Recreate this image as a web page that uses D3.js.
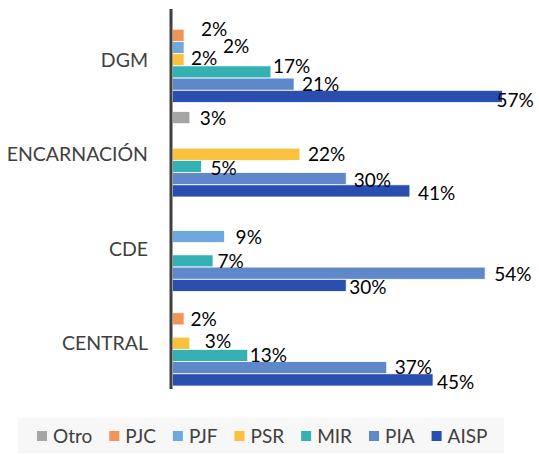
<!DOCTYPE html>
<html>
<head>
<meta charset="utf-8">
<script src="https://cdn.jsdelivr.net/npm/d3@7"></script>
<style>
  body { margin: 0; background: #fff; }
  svg { display: block; font-family: Lato, "Open Sans", sans-serif; }
</style>
</head>
<body>
<svg width="539" height="454"></svg>
<script>
// categories top to bottom
var categories = ['DGM', 'ENCARNACIÓN', 'CDE', 'CENTRAL']
// series in legend order (also top to bottom inside each group)
var series = ['Otro', 'PJC', 'PJF', 'PSR', 'MIR', 'PIA', 'AISP']
var colors = ['#A5A5A5', '#F0955A', '#6FA8DC', '#FBC03D', '#35B0B3', '#5F88CB', '#2A4EAE']

// percent values, one array per series, in category order (null = no bar)
var otro = [null, 3, null, null]
var pjc = [2, null, null, 2]
var pjf = [2, null, 9, null]
var psr = [2, 22, null, 3]
var mir = [17, 5, 7, 13]
var pia = [21, 30, 54, 37]
var aisp = [57, 41, 30, 45]
var values = [otro, pjc, pjf, psr, mir, pia, aisp]

// label nudges like the spreadsheet did to avoid overlaps [dx after bar end, dy from bar centre]
var labelNudge = {
    'DGM|PJC': [17, -6.5], 'DGM|PJF': [39, -1.5], 'DGM|PSR': [7, -1.5],
    'DGM|MIR': [2, -6], 'DGM|PIA': [8, 0], 'DGM|AISP': [-6, 3.5],
    'ENCARNACIÓN|Otro': [10, 0.5], 'ENCARNACIÓN|PSR': [8, 0], 'ENCARNACIÓN|MIR': [9, 2],
    'ENCARNACIÓN|PIA': [7.5, 2], 'ENCARNACIÓN|AISP': [8, 2.5],
    'CDE|PJF': [11, 0.5], 'CDE|MIR': [4.5, 0.5], 'CDE|PIA': [9, 0.7], 'CDE|AISP': [3, 2],
    'CENTRAL|PJC': [6.5, 0], 'CENTRAL|PSR': [15, -2], 'CENTRAL|MIR': [2, 0],
    'CENTRAL|PIA': [8, 0], 'CENTRAL|AISP': [4, 2]
}

var svg = d3.select('svg')

var y = d3.scaleBand()
    .domain(categories)
    .range([12.5, 390.5])
    .paddingInner(0.095)
    .paddingOuter(0.0475)
var ySub = d3.scaleBand()
    .domain(series)
    .range([0, y.bandwidth()])
var x = d3.scaleLinear()
    .domain([0, 60])
    .range([172.5, 172.5 + 60 * 5.79])

var rows = []
categories.forEach(function (cat, ci) {
    series.forEach(function (s, si) {
        var v = values[si][ci]
        if (v !== null) rows.push({ cat: cat, series: s, value: v, color: colors[si] })
    })
})

// bars
svg.append('g').selectAll('rect')
    .data(rows)
    .enter().append('rect')
    .attr('x', x(0))
    .attr('y', function (d) { return y(d.cat) + ySub(d.series) })
    .attr('width', function (d) { return x(d.value) - x(0) })
    .attr('height', ySub.bandwidth())
    .attr('fill', function (d) { return d.color })
    .attr('stroke', '#fff')
    .attr('stroke-width', 0.8)

// value labels
svg.append('g').selectAll('text')
    .data(rows)
    .enter().append('text')
    .attr('x', function (d) {
        var n = labelNudge[d.cat + '|' + d.series] || [8, 2]
        return x(d.value) + n[0]
    })
    .attr('y', function (d) {
        var n = labelNudge[d.cat + '|' + d.series] || [8, 2]
        return y(d.cat) + ySub(d.series) + ySub.bandwidth() / 2 + n[1] + 6.8
    })
    .attr('font-size', 19)
    .attr('fill', '#000')
    .text(function (d) { return d.value + '%' })

// category axis
var axis = svg.append('g')
    .attr('transform', 'translate(171,0)')
    .call(d3.axisLeft(y).tickSize(0).tickPadding(23))
axis.select('.domain').remove()
axis.selectAll('text')
    .attr('font-size', 19.5)
    .attr('font-family', 'Lato, sans-serif')
    .attr('fill', '#404040')
    .attr('dy', '0.35em')
svg.append('line')
    .attr('x1', 171).attr('x2', 171)
    .attr('y1', 9).attr('y2', 389)
    .attr('stroke', '#404040')
    .attr('stroke-width', 3)

// legend
var legend = svg.append('g')
legend.append('rect')
    .attr('x', 18).attr('y', 418)
    .attr('width', 486).attr('height', 35)
    .attr('fill', '#F7F7F7')
var cx = 37
series.forEach(function (s, i) {
    legend.append('rect')
        .attr('x', cx).attr('y', 431)
        .attr('width', 10).attr('height', 10)
        .attr('fill', colors[i])
    var t = legend.append('text')
        .attr('x', cx + 16).attr('y', 443)
        .attr('font-size', 19)
        .attr('fill', '#404040')
        .text(s)
    cx += 16 + t.node().getComputedTextLength() + 17
})
</script>
</body>
</html>
